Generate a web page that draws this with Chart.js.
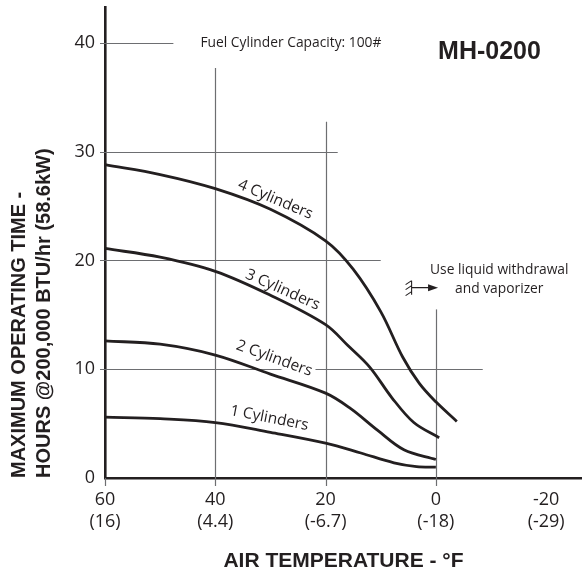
<!DOCTYPE html>
<html>
<head>
<meta charset="utf-8">
<script src="https://cdn.jsdelivr.net/npm/chart.js@4.4.1/dist/chart.umd.min.js"></script>
<style>
html, body { margin: 0; padding: 0; background: #fff; }
#wrap { width: 582px; height: 576px; position: relative; }
</style>
</head>
<body>
<div id="wrap"><canvas id="chart"></canvas></div>
<script>
// 축 눈금
const xTicks = [60, 40, 20, 0, -20];
const xTicksC = ['(16)', '(4.4)', '(-6.7)', '(-18)', '(-29)'];
const yTicks = [0, 10, 20, 30, 40];

// 실린더 수별 운전 시간 곡선 (°F, 시간)
const temps1 = [60, 50, 40, 30, 20, 13.6, 7.6, 3.5, 0];
const hours1 = [5.6, 5.45, 5.1, 4.2, 3.2, 2.3, 1.4, 1.05, 1.0];
const temps2 = [60, 50, 40, 30, 20, 15.5, 10.6, 5.8, 0];
const hours2 = [12.6, 12.3, 11.3, 9.55, 7.8, 6.4, 4.4, 2.6, 1.7];
const temps3 = [60, 50, 40, 30, 20, 16, 12, 8, 4, -0.6];
const hours3 = [21.1, 20.3, 19.0, 16.8, 14.1, 12.2, 10.2, 7.4, 5.1, 3.7];
const temps4 = [60, 50, 40, 30, 20, 15, 10, 6, 3, 0, -3.8];
const hours4 = [28.8, 27.9, 26.6, 24.7, 21.8, 19.2, 15.3, 11.1, 8.7, 7.0, 5.2];

const curveNames = ['1 Cylinders', '2 Cylinders', '3 Cylinders', '4 Cylinders'];
// 곡선 라벨 위치 [°F, 시간, 각도]
const curveLabelAt = [[30.2, 5.5, 11], [29.3, 11.0, 20], [27.8, 17.3, 24], [29.1, 25.6, 23]];

// 부분 격자선: 가로 [시간, 끝 °F], 세로 [°F, 끝 시간]
const gridH = [[40, 47.6], [30, 17.8], [20, 10], [10, -8.5]];
const gridV = [[60, 0], [40, 37.7], [20, 32.75], [0, 15.5]];

const INK = '#231f20';
const GRID = '#6d6e71';

function pts(xs, ys) {
    return xs.map((x, i) => ({ x: x, y: ys[i] }));
}

function curve(xs, ys) {
    return {
        data: pts(xs, ys),
        borderColor: INK,
        borderWidth: 2.8,
        pointRadius: 0,
        fill: false,
        tension: 0.35,
        clip: false
    };
}

const annotate = {
    id: 'annotate',
    beforeDatasetsDraw(chart) {
        const { ctx, scales: { x, y } } = chart;
        ctx.save();
        ctx.strokeStyle = GRID;
        ctx.lineWidth = 1.2;
        // 가로 격자
        gridH.forEach(([v, end]) => {
            const py = Math.round(y.getPixelForValue(v)) + 0.5;
            ctx.beginPath();
            ctx.moveTo(x.getPixelForValue(60) - 5, py);
            ctx.lineTo(x.getPixelForValue(end), py);
            ctx.stroke();
        });
        // 세로 격자 (축 아래로 눈금처럼 조금 나옴)
        gridV.forEach(([v, top]) => {
            const px = Math.round(x.getPixelForValue(v)) + 0.5;
            ctx.beginPath();
            ctx.moveTo(px, y.getPixelForValue(0) + 8);
            ctx.lineTo(px, y.getPixelForValue(top));
            ctx.stroke();
        });

        // 곡선 라벨 (흰 테두리로 격자선을 끊음)
        ctx.font = '15.5px "Open Sans"';
        ctx.textAlign = 'center';
        ctx.textBaseline = 'middle';
        curveNames.forEach((name, i) => {
            const [t, h, ang] = curveLabelAt[i];
            ctx.save();
            ctx.translate(x.getPixelForValue(t), y.getPixelForValue(h));
            ctx.rotate(ang * Math.PI / 180);
            ctx.strokeStyle = '#fff';
            ctx.lineWidth = 7;
            ctx.lineJoin = 'round';
            ctx.strokeText(name, 0, 0);
            ctx.fillStyle = INK;
            ctx.fillText(name, 0, 0);
            ctx.restore();
        });
        ctx.restore();
    },
    afterDraw(chart) {
        const { ctx, scales: { x, y } } = chart;
        ctx.save();
        ctx.fillStyle = INK;
        ctx.strokeStyle = INK;

        // 용량 표기
        ctx.font = '13.8px "Open Sans"';
        ctx.textAlign = 'left';
        ctx.textBaseline = 'middle';
        ctx.fillText('Fuel Cylinder Capacity: 100#', x.getPixelForValue(42.7), y.getPixelForValue(40));

        // 모델명
        ctx.font = 'bold 25px "Liberation Sans", Arial, sans-serif';
        ctx.textBaseline = 'alphabetic';
        ctx.fillText('MH-0200', x.getPixelForValue(-0.4), y.getPixelForValue(39.4) + 10);

        // 액체 인출 안내
        ctx.font = '13.8px "Open Sans"';
        ctx.textAlign = 'center';
        ctx.textBaseline = 'middle';
        ctx.fillText('Use liquid withdrawal', x.getPixelForValue(-11.5), y.getPixelForValue(19.1));
        ctx.fillText('and vaporizer', x.getPixelForValue(-11.5), y.getPixelForValue(17.4));

        // 화살표
        const ax = x.getPixelForValue(4.4), bx = x.getPixelForValue(-0.4), ay = y.getPixelForValue(17.5);
        ctx.lineWidth = 1.1;
        ctx.beginPath();
        ctx.moveTo(ax, ay - 7); ctx.lineTo(ax, ay + 7);
        [-6, -1, 5].forEach(d => {
            ctx.moveTo(ax - 6, ay + d + 3);
            ctx.lineTo(ax, ay + d - 1);
        });
        ctx.moveTo(ax, ay); ctx.lineTo(bx - 8, ay);
        ctx.stroke();
        ctx.beginPath();
        ctx.moveTo(bx, ay); ctx.lineTo(bx - 10, ay - 3.5); ctx.lineTo(bx - 10, ay + 3.5);
        ctx.closePath();
        ctx.fill();

        // 세로축 제목 (두 줄)
        ctx.font = 'bold 20px "Liberation Sans", Arial, sans-serif';
        ctx.textAlign = 'left';
        ctx.textBaseline = 'alphabetic';
        ctx.save();
        ctx.translate(25, 478);
        ctx.rotate(-Math.PI / 2);
        ctx.fillText('MAXIMUM OPERATING TIME -', 0, 0);
        ctx.fillText('HOURS @200,000 BTU/hr (58.6kW)', 0, 24.5);
        ctx.restore();
        ctx.restore();
    }
};

new Chart(document.getElementById('chart'), {
    type: 'line',
    data: {
        datasets: [
            curve(temps1, hours1),
            curve(temps2, hours2),
            curve(temps3, hours3),
            curve(temps4, hours4)
        ]
    },
    options: {
        responsive: true,
        maintainAspectRatio: false,
        animation: false,
        layout: { padding: { top: 7, right: 0, left: 0, bottom: 0 } },
        plugins: {
            legend: { display: false },
            tooltip: { enabled: false }
        },
        scales: {
            x: {
                type: 'linear',
                reverse: true,
                min: -26.5,
                max: 60,
                grid: { display: false, drawTicks: false },
                border: { display: true, color: INK, width: 2.6 },
                afterBuildTicks: s => { s.ticks = xTicks.map(v => ({ value: v })); },
                afterFit: s => { s.height = 98; s.paddingLeft = 0; s.paddingRight = 0; },
                ticks: {
                    autoSkip: false,
                    maxRotation: 0,
                    padding: 11,
                    color: INK,
                    font: { family: '"Open Sans"', size: 18, lineHeight: 1.22 },
                    callback: v => [String(v), xTicksC[xTicks.indexOf(v)]]
                },
                title: {
                    display: true,
                    text: 'AIR TEMPERATURE - °F',
                    color: INK,
                    font: { family: '"Liberation Sans", Arial, sans-serif', size: 21, weight: 'bold', lineHeight: 1.2 },
                    padding: { top: 0, bottom: 2 }
                }
            },
            y: {
                min: 0,
                max: 43.3,
                grid: { display: false, drawTicks: false },
                border: { display: true, color: INK, width: 2.6 },
                afterBuildTicks: s => { s.ticks = yTicks.map(v => ({ value: v })); },
                afterFit: s => { s.width = 105; s.paddingTop = 0; s.paddingBottom = 0; },
                ticks: {
                    padding: 10,
                    color: INK,
                    font: { family: '"Open Sans"', size: 18 }
                }
            }
        }
    },
    plugins: [annotate]
});
</script>
</body>
</html>
